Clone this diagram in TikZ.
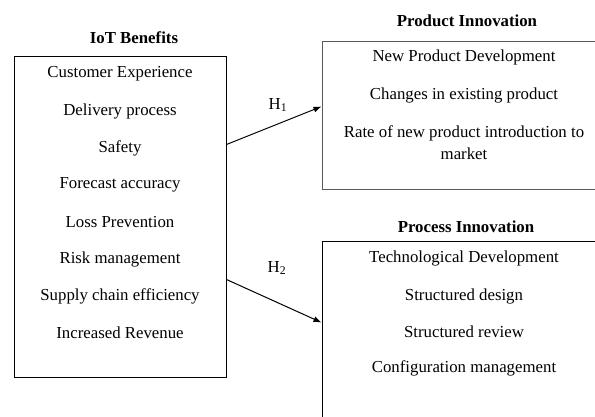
\documentclass[tikz,border=0pt]{standalone}
\usepackage{fontspec}
\setmainfont{Liberation Serif}
\usetikzlibrary{arrows.meta,calc}

\tikzset{
  panel/.style={draw=#1, line width=1pt, rectangle, inner sep=0pt},
  panel/.default=black,
  heading/.style={font=\fontsize{16.8}{20}\selectfont\bfseries, inner sep=0pt},
  item/.style={font=\fontsize{16.8}{22}\selectfont, inner sep=0pt, align=center},
  link/.style={line width=1pt, -{Latex[length=8pt,width=6pt]}},
  hyp/.style={font=\fontsize{16.8}{20}\selectfont, inner sep=0pt}
}

\begin{document}
\begin{tikzpicture}[x=1pt, y=-1pt]
  \useasboundingbox (0,0) rectangle (595,416);
  \clip (0,0) rectangle (595,416);

  % left block: IoT benefits
  \node[heading] (iottitle) at (134,38) {IoT Benefits};
  \node[panel, minimum width=212pt, minimum height=321pt] (iot) at (120,216.5) {};
  \node[item] (b1) at (120,74)  {Customer Experience};
  \node[item] (b2) at (120,111) {Delivery process};
  \node[item] (b3) at (120,148) {Safety};
  \node[item] (b4) at (120,185) {Forecast accuracy};
  \node[item] (b5) at (120,222) {Loss Prevention};
  \node[item] (b6) at (120,259) {Risk management};
  \node[item] (b7) at (120,296) {Supply chain efficiency};
  \node[item] (b8) at (120,333) {Increased Revenue};

  % upper right block: product innovation
  \node[heading] (prodtitle) at (467,21) {Product Innovation};
  \node[panel=black!65, minimum width=284pt, minimum height=148pt] (prod) at (464,115) {};
  \node[item] (p1) at (464,57) {New Product Development};
  \node[item] (p2) at (464,95) {Changes in existing product};
  \node[item] (p3) at (464,143) {Rate of new product introduction to\\market};

  % lower right block: process innovation
  \node[heading] (proctitle) at (466,227) {Process Innovation};
  \node[panel, minimum width=284pt, minimum height=200pt] (proc) at (464,341) {};
  \node[item] (q1) at (464,258) {Technological Development};
  \node[item] (q2) at (464,296) {Structured design};
  \node[item] (q3) at (464,332) {Structured review};
  \node[item] (q4) at (464,368) {Configuration management};

  % hypotheses
  \coordinate (h1from) at ($(iot.north east)+(0,89)$);
  \coordinate (h1to)   at ($(prod.north west)+(0,66)$);
  \coordinate (h2from) at ($(iot.north east)+(0,224)$);
  \coordinate (h2to)   at ($(proc.north west)+(0,82)$);
  \draw[link] (h1from) -- (h1to);
  \draw[link] (h2from) -- (h2to);
  \node[hyp] (h1) at (278,105) {H\textsubscript{1}};
  \node[hyp] (h2) at (277,268) {H\textsubscript{2}};
\end{tikzpicture}
\end{document}
